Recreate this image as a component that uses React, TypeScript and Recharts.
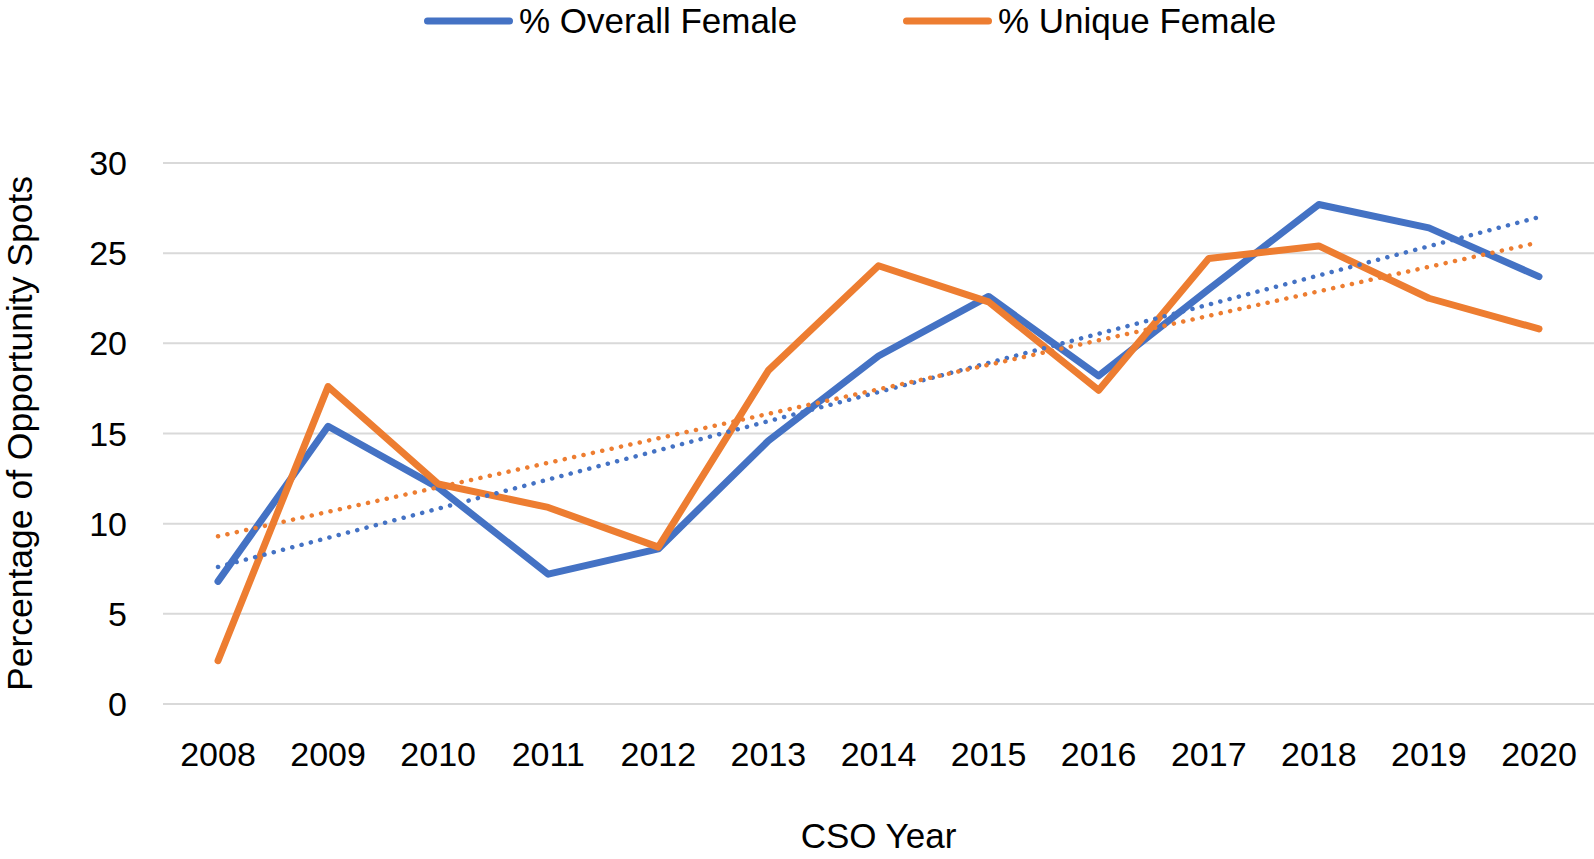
import React from 'react';
import { LineChart, Line, XAxis, YAxis, CartesianGrid, Label } from 'recharts';

const years = ['2008', '2009', '2010', '2011', '2012', '2013', '2014', '2015', '2016', '2017', '2018', '2019', '2020'];
const overallFemale = [6.8, 15.4, 12.0, 7.2, 8.6, 14.6, 19.3, 22.6, 18.2, 23.0, 27.7, 26.4, 23.7];
const uniqueFemale = [2.4, 17.6, 12.2, 10.9, 8.7, 18.5, 24.3, 22.3, 17.4, 24.7, 25.4, 22.5, 20.8];
// trendline end values (straight dotted lines)
const overallTrendline = [7.6, null, null, null, null, null, null, null, null, null, null, null, 27.0];
const uniqueTrendline = [9.3, null, null, null, null, null, null, null, null, null, null, null, 25.6];
const yTicks = [0, 5, 10, 15, 20, 25, 30];
const seriesNames = ['% Overall Female', '% Unique Female'];
const seriesColors = ['#4472C4', '#ED7D31'];

const data = years.map((year, i) => ({
  year,
  overall: overallFemale[i],
  unique: uniqueFemale[i],
  overallTrend: overallTrendline[i],
  uniqueTrend: uniqueTrendline[i],
}));

const FONT = "'Liberation Sans', Arial, sans-serif";
const legendLefts = [424, 903];

export default function App() {
  return (
    <div style={{ position: 'absolute', left: 0, top: 0, width: 1594, height: 859, background: '#fff', fontFamily: FONT }}>
      <LineChart width={1594} height={859} data={data} margin={{ top: 163, right: 0, bottom: 0, left: 0 }}>
        <CartesianGrid vertical={false} stroke="#D9D9D9" strokeWidth={2} />
        <XAxis
          dataKey="year"
          height={155}
          padding={{ left: 55, right: 55 }}
          axisLine={false}
          tickLine={false}
          tickSize={0}
          tickMargin={38}
          tick={{ fill: '#000', fontSize: 34, fontFamily: FONT }}
          interval={0}
        >
          <Label value="CSO Year" position="insideBottom" offset={11} fill="#000" fontSize={35} fontFamily={FONT} />
        </XAxis>
        <YAxis
          width={163}
          domain={[0, 30]}
          ticks={yTicks}
          axisLine={false}
          tickLine={false}
          tickSize={0}
          tickMargin={36}
          tick={{ fill: '#000', fontSize: 34, fontFamily: FONT }}
        >
          <Label
            content={(props: any) => {
              const vb = props.viewBox || { y: 163, height: 541 };
              const cy = vb.y + vb.height / 2;
              return (
                <text
                  x={20}
                  y={cy}
                  transform={`rotate(-90, 20, ${cy})`}
                  textAnchor="middle"
                  dominantBaseline="central"
                  fill="#000"
                  fontSize={35.5}
                  fontFamily={FONT}
                >
                  Percentage of Opportunity Spots
                </text>
              );
            }}
          />
        </YAxis>
        <Line dataKey="overall" stroke={seriesColors[0]} strokeWidth={7} dot={false} strokeLinejoin="round" strokeLinecap="round" isAnimationActive={false} />
        <Line dataKey="unique" stroke={seriesColors[1]} strokeWidth={7} dot={false} strokeLinejoin="round" strokeLinecap="round" isAnimationActive={false} />
        <Line dataKey="overallTrend" stroke={seriesColors[0]} strokeWidth={4.5} strokeDasharray="0.1 9.5" strokeLinecap="round" dot={false} connectNulls isAnimationActive={false} />
        <Line dataKey="uniqueTrend" stroke={seriesColors[1]} strokeWidth={4.5} strokeDasharray="0.1 9.5" strokeLinecap="round" dot={false} connectNulls isAnimationActive={false} />
      </LineChart>
      {seriesNames.map((name, i) => (
        <div
          key={name}
          style={{ position: 'absolute', left: legendLefts[i], top: 0, height: 41, display: 'flex', alignItems: 'center' }}
        >
          <svg width={89} height={10} style={{ display: 'block' }}>
            <line x1={3.5} y1={5} x2={85.5} y2={5} stroke={seriesColors[i]} strokeWidth={7} strokeLinecap="round" />
          </svg>
          <span style={{ marginLeft: 6, fontSize: 35, lineHeight: '41px', color: '#000', whiteSpace: 'nowrap', fontFamily: FONT }}>{name}</span>
        </div>
      ))}
    </div>
  );
}
